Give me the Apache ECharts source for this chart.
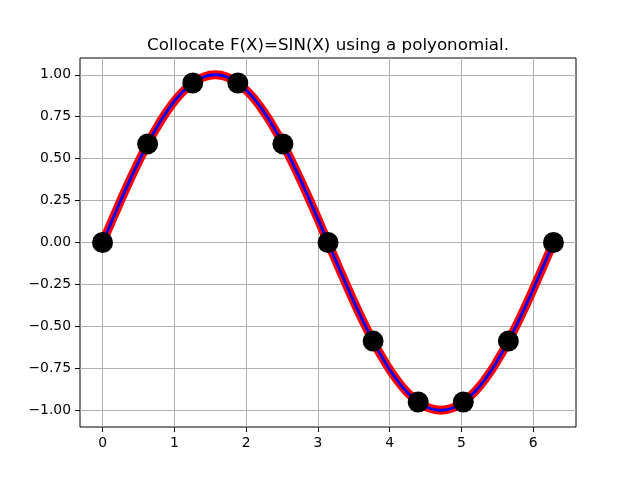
<!DOCTYPE html>
<html>
<head>
<meta charset="utf-8">
<script src="https://cdn.jsdelivr.net/npm/echarts@6/dist/echarts.min.js"></script>
<style>html,body{margin:0;padding:0;background:#fff}#c{width:640px;height:480px}</style>
</head>
<body>
<div id="c"></div>
<script>
const titleText = 'Collocate F(X)=SIN(X) using a polyonomial.';
const curveX = [0, 0.157, 0.314, 0.471, 0.628, 0.785, 0.942, 1.100, 1.257, 1.414, 1.571, 1.728, 1.885, 2.042, 2.199, 2.356, 2.513, 2.670, 2.827, 2.985, 3.142, 3.299, 3.456, 3.613, 3.770, 3.927, 4.084, 4.241, 4.398, 4.555, 4.712, 4.869, 5.027, 5.184, 5.341, 5.498, 5.655, 5.812, 5.969, 6.126, 6.283];
const curveY = [0, 0.156, 0.309, 0.454, 0.588, 0.707, 0.809, 0.891, 0.951, 0.988, 1.000, 0.988, 0.951, 0.891, 0.809, 0.707, 0.588, 0.454, 0.309, 0.156, 0, -0.156, -0.309, -0.454, -0.588, -0.707, -0.809, -0.891, -0.951, -0.988, -1.000, -0.988, -0.951, -0.891, -0.809, -0.707, -0.588, -0.454, -0.309, -0.156, 0];
const nodeX = [0, 0.628, 1.257, 1.885, 2.513, 3.142, 3.770, 4.398, 5.027, 5.655, 6.283];
const nodeY = [0, 0.588, 0.951, 0.951, 0.588, 0, -0.588, -0.951, -0.951, -0.588, 0];
const xTicks = [0, 1, 2, 3, 4, 5, 6];
const yTicks = [-1.0, -0.75, -0.5, -0.25, 0, 0.25, 0.5, 0.75, 1.0];

const font = 'DejaVu Sans';
const curve = curveX.map((x, i) => [x, curveY[i]]);
const nodes = nodeX.map((x, i) => [x, nodeY[i]]);
const fmtY = v => (v < 0 ? '\u2212' : '') + Math.abs(v).toFixed(2);

const chart = echarts.init(document.getElementById('c'), null, {renderer: 'canvas'});
chart.setOption({
  animation: false,
  backgroundColor: '#fff',
  title: {
    text: titleText, left: 328, top: 37, textAlign: 'center', padding: 0,
    textStyle: {fontFamily: font, fontSize: 16.7, fontWeight: 'normal', color: '#000'}
  },
  grid: {left: 80, right: 64, top: 58, bottom: 53, show: true, borderColor: '#000', borderWidth: 1, containLabel: false},
  xAxis: {
    type: 'value', min: -0.3142, max: 6.5973,
    axisLine: {show: false, onZero: false},
    axisTick: {show: true, inside: false, customValues: xTicks, length: 5, lineStyle: {color: '#000'}},
    axisLabel: {customValues: xTicks, fontFamily: font, fontSize: 13.9, color: '#000', margin: 9, formatter: v => String(Math.round(v))},
    splitLine: {show: true, lineStyle: {color: '#b0b0b0', width: 1}}
  },
  yAxis: {
    type: 'value', min: -1.1, max: 1.1,
    axisLine: {show: false, onZero: false},
    axisTick: {show: true, inside: false, customValues: yTicks, length: 5, lineStyle: {color: '#000'}},
    axisLabel: {customValues: yTicks, fontFamily: font, fontSize: 13.9, color: '#000', margin: 9, formatter: fmtY},
    splitLine: {show: true, lineStyle: {color: '#b0b0b0', width: 1}}
  },
  series: [
    {type: 'line', data: curve, showSymbol: false, smooth: true, lineStyle: {color: '#ff0000', width: 8.8}, z: 2},
    {type: 'line', data: curve, showSymbol: false, smooth: true, lineStyle: {color: '#0000ff', width: 2.8}, z: 3},
    {type: 'scatter', data: nodes, symbol: 'circle', symbolSize: 21, itemStyle: {color: '#000', opacity: 1}, z: 4}
  ]
});
</script>
</body>
</html>
